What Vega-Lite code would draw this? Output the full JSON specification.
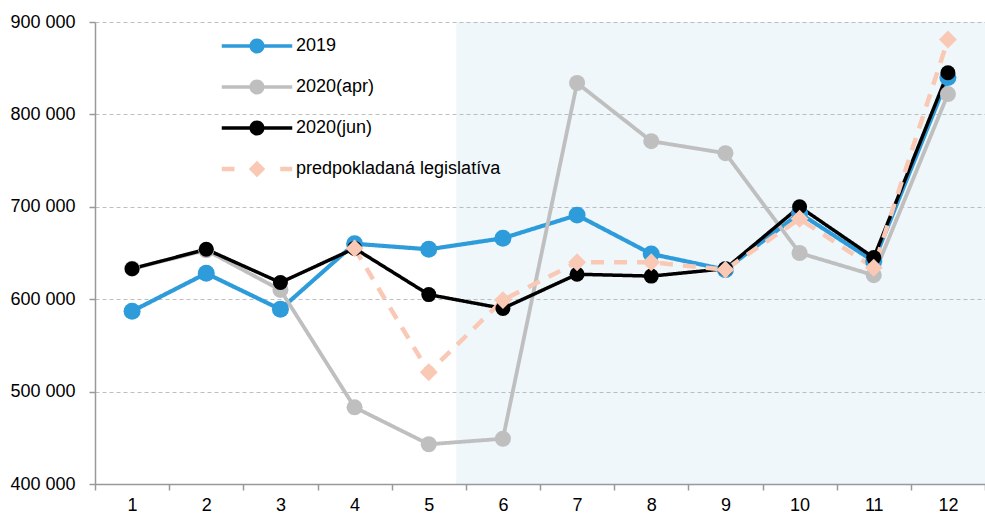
{
  "$schema": "https://vega.github.io/schema/vega-lite/v6.json",
  "width": 890,
  "height": 462,
  "autosize": "none",
  "padding": {"left": 95, "top": 22, "right": 0, "bottom": 34},
  "background": "white",
  "config": {"view": {"stroke": null}, "font": "Liberation Sans"},
  "resolve": {"scale": {"x": "independent"}},
  "layer": [
    {
      "data": {"values": [{"from": 5.37, "to": 12.5}]},
      "mark": {"type": "rect", "color": "#7FBFD9", "opacity": 0.12},
      "encoding": {
        "x": {"field": "from", "type": "quantitative", "scale": {"domain": [0.5, 12.5], "nice": false, "zero": false}, "axis": null},
        "x2": {"field": "to"}
      }
    },
    {
      "data": {"values": [
        {"series": "2019", "month": 1, "value": 587000},
        {"series": "2019", "month": 2, "value": 628000},
        {"series": "2019", "month": 3, "value": 589000},
        {"series": "2019", "month": 4, "value": 660000},
        {"series": "2019", "month": 5, "value": 654000},
        {"series": "2019", "month": 6, "value": 666000},
        {"series": "2019", "month": 7, "value": 691000},
        {"series": "2019", "month": 8, "value": 649000},
        {"series": "2019", "month": 9, "value": 632000},
        {"series": "2019", "month": 10, "value": 693000},
        {"series": "2019", "month": 11, "value": 641000},
        {"series": "2019", "month": 12, "value": 840000},
        {"series": "2020(apr)", "month": 1, "value": 633000},
        {"series": "2020(apr)", "month": 2, "value": 653000},
        {"series": "2020(apr)", "month": 3, "value": 610000},
        {"series": "2020(apr)", "month": 4, "value": 483000},
        {"series": "2020(apr)", "month": 5, "value": 443000},
        {"series": "2020(apr)", "month": 6, "value": 449000},
        {"series": "2020(apr)", "month": 7, "value": 834000},
        {"series": "2020(apr)", "month": 8, "value": 771000},
        {"series": "2020(apr)", "month": 9, "value": 758000},
        {"series": "2020(apr)", "month": 10, "value": 650000},
        {"series": "2020(apr)", "month": 11, "value": 626000},
        {"series": "2020(apr)", "month": 12, "value": 822000},
        {"series": "2020(jun)", "month": 1, "value": 633000},
        {"series": "2020(jun)", "month": 2, "value": 654000},
        {"series": "2020(jun)", "month": 3, "value": 618000},
        {"series": "2020(jun)", "month": 4, "value": 655000},
        {"series": "2020(jun)", "month": 5, "value": 605000},
        {"series": "2020(jun)", "month": 6, "value": 590000},
        {"series": "2020(jun)", "month": 7, "value": 627000},
        {"series": "2020(jun)", "month": 8, "value": 625000},
        {"series": "2020(jun)", "month": 9, "value": 633000},
        {"series": "2020(jun)", "month": 10, "value": 700000},
        {"series": "2020(jun)", "month": 11, "value": 645000},
        {"series": "2020(jun)", "month": 12, "value": 845000},
        {"series": "predpokladaná legislatíva", "month": 4, "value": 655000},
        {"series": "predpokladaná legislatíva", "month": 5, "value": 521000},
        {"series": "predpokladaná legislatíva", "month": 6, "value": 599000},
        {"series": "predpokladaná legislatíva", "month": 7, "value": 640000},
        {"series": "predpokladaná legislatíva", "month": 8, "value": 640000},
        {"series": "predpokladaná legislatíva", "month": 9, "value": 632000},
        {"series": "predpokladaná legislatíva", "month": 10, "value": 687000},
        {"series": "predpokladaná legislatíva", "month": 11, "value": 634000},
        {"series": "predpokladaná legislatíva", "month": 12, "value": 881000}
      ]},
      "encoding": {
        "x": {
          "field": "month", "type": "ordinal", "bandPosition": 0.5,
          "scale": {"type": "band", "paddingInner": 0, "paddingOuter": 0},
          "axis": {"title": null, "labelAngle": 0, "tickBand": "extent", "grid": false, "domainColor": "#999999", "domainWidth": 1.5, "tickColor": "#999999", "tickWidth": 1.5, "tickSize": 6, "labelPadding": 6, "labelFontSize": 18, "labelColor": "#000000"}
        },
        "y": {
          "field": "value", "type": "quantitative",
          "scale": {"domain": [400000, 900000], "nice": false, "zero": false},
          "axis": {"title": null, "values": [400000, 500000, 600000, 700000, 800000, 900000], "labelExpr": "format(datum.value/1000,'d') + ' 000'", "grid": true, "gridDash": [4, 3], "gridColor": "#BFBFBF", "gridWidth": 1, "domainColor": "#999999", "domainWidth": 1.5, "tickColor": "#999999", "tickWidth": 1.5, "tickSize": 6, "labelPadding": 14, "labelFontSize": 18, "labelColor": "#000000"}
        }
      },
      "layer": [
        {
          "mark": {"type": "line"},
          "encoding": {
            "stroke": {"field": "series", "type": "nominal", "scale": {"domain": ["predpokladaná legislatíva", "2019", "2020(apr)", "2020(jun)"], "range": ["#F9C9B6", "#2E9BDA", "#BFBFBF", "#000000"]}, "legend": null},
            "strokeDash": {"field": "series", "type": "nominal", "scale": {"domain": ["predpokladaná legislatíva", "2019", "2020(apr)", "2020(jun)"], "range": [[13, 10], [1, 0], [1, 0], [1, 0]]}, "legend": null},
            "strokeWidth": {"field": "series", "type": "nominal", "scale": {"domain": ["predpokladaná legislatíva", "2019", "2020(apr)", "2020(jun)"], "range": [4.5, 3.5, 3.5, 3.5]}, "legend": null}
          }
        },
        {
          "mark": {"type": "point", "filled": true, "opacity": 1},
          "encoding": {
            "color": {
              "field": "series", "type": "nominal",
              "scale": {"domain": ["2019", "2020(apr)", "2020(jun)", "predpokladaná legislatíva"], "range": ["#2E9BDA", "#BFBFBF", "#000000", "#F9C9B6"]},
              "legend": {
                "orient": "none", "legendX": 153, "legendY": 15, "title": null,
                "labelFontSize": 18, "labelColor": "#000000", "labelLimit": 400, "symbolSize": 225, "symbolStrokeWidth": 0, "symbolOpacity": 1,
                "symbolType": {"expr": "datum.value === 'predpokladaná legislatíva' ? 'M-4.7,-0.3H-3V0.3H-4.7Z M3.1,-0.3H4.7V0.3H3.1Z M0,-1.1L1.1,0L0,1.1L-1.1,0Z' : 'M-4.7,-0.22H4.7V0.22H-4.7Z M-1,0A1,1 0 1,1 1,0A1,1 0 1,1 -1,0Z'"},
                "labelOffset": 30, "rowPadding": 23, "padding": 0
              }
            },
            "shape": {"field": "series", "type": "nominal", "scale": {"domain": ["predpokladaná legislatíva", "2019", "2020(apr)", "2020(jun)"], "range": ["diamond", "circle", "circle", "circle"]}, "legend": null},
            "size": {"field": "series", "type": "nominal", "scale": {"domain": ["predpokladaná legislatíva", "2019", "2020(apr)", "2020(jun)"], "range": [320, 225, 225, 225]}, "legend": null}
          }
        }
      ]
    }
  ]
}
